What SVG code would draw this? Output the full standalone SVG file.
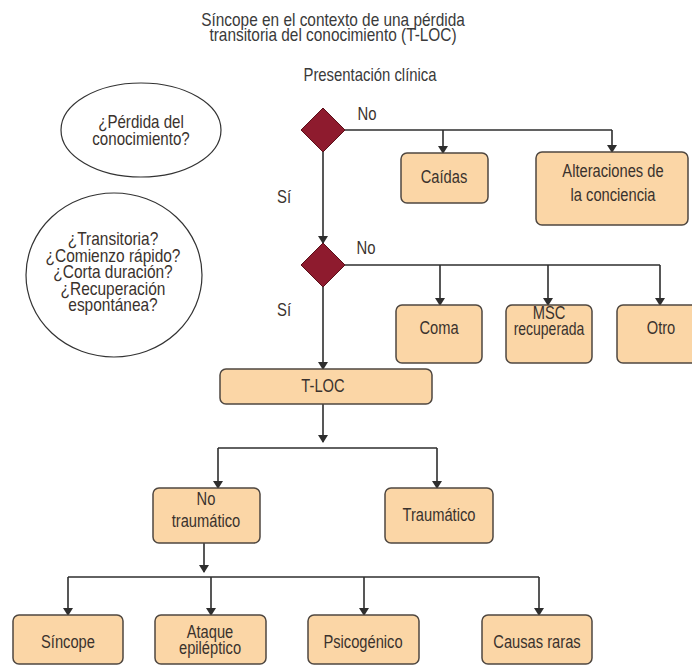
<svg xmlns="http://www.w3.org/2000/svg" width="692" height="666" viewBox="0 0 692 666">
<defs>
<marker id="ah" markerWidth="8" markerHeight="10" refX="7" refY="5" orient="auto" markerUnits="userSpaceOnUse" viewBox="0 0 8 10">
<path d="M0,0 L8,5 L0,10 Z" fill="#2e2e2e"/>
</marker>
</defs>
<style>
.t{font-family:"Liberation Sans",Arial,sans-serif;font-size:17.5px;fill:#3a322d;text-anchor:middle}
.h{fill:#3a3a3a}
.e{font-size:18px}
.box{fill:#fbd6a6;stroke:#4f4740;stroke-width:1.5}
.dia{fill:#8e1b2e;stroke:#5a1019;stroke-width:1}
.ell{fill:#fff;stroke:#333;stroke-width:1.2}
.c{fill:none;stroke:#2e2e2e;stroke-width:1.6}
.a{marker-end:url(#ah)}
</style>
<rect width="692" height="666" fill="#fff"/>
<g id="title">
<text class="t h" transform="translate(333,26) scale(0.88,1)">Síncope en el contexto de una pérdida</text>
<text class="t h" transform="translate(333,41) scale(0.88,1)">transitoria del conocimiento (T-LOC)</text>
<text class="t h" transform="translate(370,81) scale(0.85,1)">Presentación clínica</text>
</g>
<g id="q1"><ellipse class="ell" cx="141" cy="130" rx="80" ry="47"/>
<text class="t e" transform="translate(141,128) scale(0.84,1)">¿Pérdida del</text><text class="t e" transform="translate(141,145) scale(0.84,1)">conocimiento?</text></g>
<g id="q2"><ellipse class="ell" cx="114" cy="275" rx="88" ry="82"/>
<text class="t e" transform="translate(113,245) scale(0.86,1)">¿Transitoria?</text>
<text class="t e" transform="translate(113,261.5) scale(0.86,1)">¿Comienzo rápido?</text>
<text class="t e" transform="translate(113,278) scale(0.86,1)">¿Corta duración?</text>
<text class="t e" transform="translate(113,294.5) scale(0.86,1)">¿Recuperación</text>
<text class="t e" transform="translate(113,311) scale(0.86,1)">espontánea?</text></g>
<g id="connectors">
<path class="c" d="M345,130 H612"/>
<path class="c a" d="M443,130 V153"/>
<path class="c a" d="M612,130 V152"/>
<path class="c a" d="M323,152 V243"/>
<path class="c" d="M345,265 H660"/>
<path class="c a" d="M440,265 V305"/>
<path class="c a" d="M548,265 V305"/>
<path class="c a" d="M660,265 V305"/>
<path class="c a" d="M323,287 V369"/>
<path class="c a" d="M323,404 V442"/>
<path class="c" d="M218,448 H437"/>
<path class="c a" d="M218,448 V488"/>
<path class="c a" d="M437,448 V488"/>
<path class="c a" d="M204,543 V572"/>
<path class="c" d="M68,577 H539"/>
<path class="c a" d="M68,577 V615"/>
<path class="c a" d="M211,577 V615"/>
<path class="c a" d="M364,577 V615"/>
<path class="c a" d="M539,577 V615"/>
</g>
<g id="d1"><path class="dia" d="M323,108 L345,130 L323,152 L301,130 Z"/></g>
<g id="d2"><path class="dia" d="M323,243 L345,265 L323,287 L301,265 Z"/></g>
<g id="labels">
<text class="t" transform="translate(367,120) scale(0.85,1)">No</text>
<text class="t" transform="translate(284,203) scale(0.85,1)">Sí</text>
<text class="t" transform="translate(366,254) scale(0.85,1)">No</text>
<text class="t" transform="translate(284,316) scale(0.85,1)">Sí</text>
</g>
<g id="caidas"><rect class="box" x="401" y="153" width="87" height="50" rx="6"/><text class="t" transform="translate(444,183) scale(0.84,1)">Caídas</text></g>
<g id="alteraciones"><rect class="box" x="536" y="152" width="152" height="73" rx="6"/><text class="t" transform="translate(613,177) scale(0.84,1)">Alteraciones de</text><text class="t" transform="translate(613,201) scale(0.84,1)">la conciencia</text></g>
<g id="coma"><rect class="box" x="396" y="305" width="86" height="58" rx="6"/><text class="t" transform="translate(439,334) scale(0.84,1)">Coma</text></g>
<g id="msc"><rect class="box" x="506" y="305" width="86" height="58" rx="6"/><text class="t" transform="translate(549,319) scale(0.84,1)">MSC</text><text class="t" transform="translate(549,335) scale(0.8,1)">recuperada</text></g>
<g id="otro"><rect class="box" x="617" y="305" width="86" height="58" rx="6"/><text class="t" transform="translate(661,334) scale(0.84,1)">Otro</text></g>
<g id="tloc"><rect class="box" x="220" y="369" width="212" height="35" rx="6"/><text class="t" transform="translate(323,392) scale(0.84,1)">T-LOC</text></g>
<g id="notraum"><rect class="box" x="153" y="488" width="107" height="55" rx="6"/><text class="t" transform="translate(206,505) scale(0.84,1)">No</text><text class="t" transform="translate(206,527) scale(0.84,1)">traumático</text></g>
<g id="traum"><rect class="box" x="385" y="488" width="108" height="55" rx="6"/><text class="t" transform="translate(439,521) scale(0.84,1)">Traumático</text></g>
<g id="sincope"><rect class="box" x="13" y="615" width="110" height="49" rx="6"/><text class="t" transform="translate(68,648) scale(0.84,1)">Síncope</text></g>
<g id="ataque"><rect class="box" x="155" y="615" width="111" height="49" rx="6"/><text class="t" transform="translate(210,638) scale(0.84,1)">Ataque</text><text class="t" transform="translate(210,654) scale(0.84,1)">epiléptico</text></g>
<g id="psico"><rect class="box" x="308" y="615" width="111" height="49" rx="6"/><text class="t" transform="translate(363,648) scale(0.84,1)">Psicogénico</text></g>
<g id="causas"><rect class="box" x="482" y="615" width="110" height="49" rx="6"/><text class="t" transform="translate(537,648) scale(0.84,1)">Causas raras</text></g>
</svg>
